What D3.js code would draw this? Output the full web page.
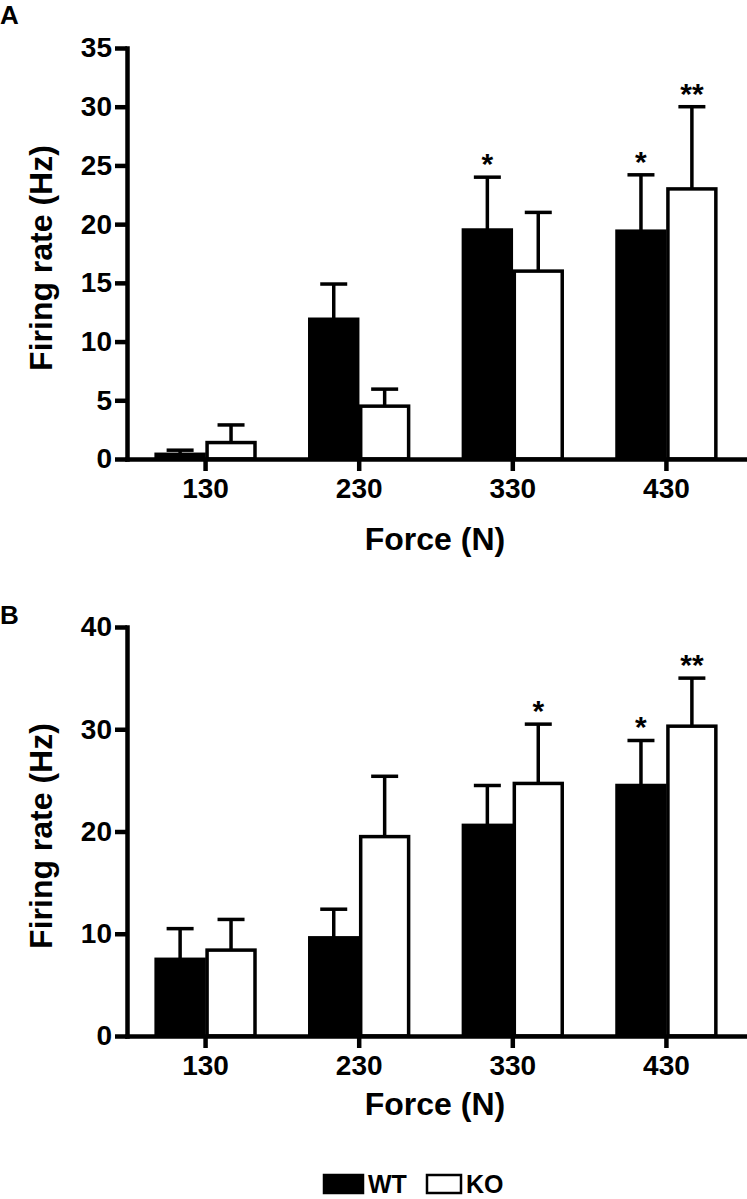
<!DOCTYPE html>
<html>
<head>
<meta charset="utf-8">
<script src="https://cdn.jsdelivr.net/npm/d3@7"></script>
<style>
  html, body { margin: 0; padding: 0; background: #fff; }
  svg { display: block; font-family: "Liberation Sans", Arial, sans-serif; font-weight: bold; }
</style>
</head>
<body>
<div id="chart"></div>
<script>
// ---- data ----
const categories = ["130", "230", "330", "430"];
const groups = ["WT", "KO"];

// Panel A
const aWT    = [0.4, 11.9, 19.5, 19.4];
const aWTerr = [0.35, 3.0, 4.5, 4.8];
const aKO    = [1.4, 4.5, 16.0, 23.0];
const aKOerr = [1.5, 1.45, 5.0, 7.0];
const aTicks = [0, 5, 10, 15, 20, 25, 30, 35];
const aStarsWT = ["", "", "*", "*"];
const aStarsKO = ["", "", "", "**"];

// Panel B
const bWT    = [7.5, 9.6, 20.6, 24.5];
const bWTerr = [3.0, 2.8, 3.9, 4.4];
const bKO    = [8.4, 19.5, 24.7, 30.3];
const bKOerr = [3.0, 5.9, 5.8, 4.7];
const bTicks = [0, 10, 20, 30, 40];
const bStarsWT = ["", "", "", "*"];
const bStarsKO = ["", "", "*", "**"];

const W = 747, H = 1199;
const svg = d3.select("#chart").append("svg").attr("width", W).attr("height", H);

function panel(opt) {
  const g = svg.append("g");
  const x = d3.scaleBand().domain(categories).range([127, 745])
    .paddingInner(0.337).paddingOuter(0.18);
  const x1 = d3.scaleBand().domain(groups).range([0, x.bandwidth()]);
  const y = d3.scaleLinear().domain(opt.domain).range([opt.y0, opt.y1]);

  const rows = [];
  categories.forEach((c, i) => {
    rows.push({c, grp: "WT", v: opt.wt[i], e: opt.wtErr[i], s: opt.starsWT[i]});
    rows.push({c, grp: "KO", v: opt.ko[i], e: opt.koErr[i], s: opt.starsKO[i]});
  });

  // error bars (upward)
  const capW = 27;
  const eb = g.append("g").attr("stroke", "#000").attr("stroke-width", 3.5);
  rows.forEach(r => {
    const cx = x(r.c) + x1(r.grp) + x1.bandwidth() / 2;
    eb.append("line").attr("x1", cx).attr("x2", cx)
      .attr("y1", y(r.v)).attr("y2", y(r.v + r.e));
    eb.append("line").attr("x1", cx - capW / 2).attr("x2", cx + capW / 2)
      .attr("y1", y(r.v + r.e)).attr("y2", y(r.v + r.e));
  });

  // bars
  g.append("g").selectAll("rect").data(rows).join("rect")
    .attr("x", d => x(d.c) + x1(d.grp) + 1.5)
    .attr("width", x1.bandwidth() - 3)
    .attr("y", d => y(d.v))
    .attr("height", d => y(0) - y(d.v))
    .attr("fill", d => d.grp === "WT" ? "#000" : "#fff")
    .attr("stroke", "#000").attr("stroke-width", 3.5);

  // significance stars
  g.append("g").selectAll("text").data(rows.filter(d => d.s)).join("text")
    .attr("x", d => x(d.c) + x1(d.grp) + x1.bandwidth() / 2)
    .attr("y", d => y(d.v + d.e) - 3)
    .attr("text-anchor", "middle")
    .attr("font-size", 30)
    .text(d => d.s);

  // y axis
  const ya = g.append("g").attr("transform", "translate(127,0)")
    .call(d3.axisLeft(y).tickValues(opt.ticks).tickSize(12).tickSizeOuter(0).tickPadding(3));
  // x axis
  const xa = g.append("g").attr("transform", `translate(0,${opt.y0})`)
    .call(d3.axisBottom(x).tickSize(12).tickSizeOuter(0).tickPadding(7));
  [ya, xa].forEach(a => {
    a.selectAll("path, line").attr("stroke", "#000").attr("stroke-width", 4.5);
    a.selectAll("path").attr("stroke-linecap", "square");
    a.selectAll("text").attr("fill", "#000").attr("font-size", 28)
      .attr("font-family", "'Liberation Sans', Arial, sans-serif").attr("font-weight", "bold");
  });

  // axis titles
  g.append("text")
    .attr("transform", `translate(52,${opt.yTitleY}) rotate(-90)`)
    .attr("text-anchor", "middle").attr("font-size", 32)
    .text("Firing rate (Hz)");
  g.append("text")
    .attr("x", 435).attr("y", opt.xTitleY)
    .attr("text-anchor", "middle").attr("font-size", 32)
    .text("Force (N)");

  // panel letter
  g.append("text").attr("x", 0).attr("y", opt.letterY)
    .attr("font-size", 26).text(opt.letter);
}

panel({
  domain: [0, 35], y0: 459, y1: 48, ticks: aTicks,
  wt: aWT, wtErr: aWTerr, ko: aKO, koErr: aKOerr,
  starsWT: aStarsWT, starsKO: aStarsKO,
  yTitleY: 258, xTitleY: 550, letter: "A", letterY: 24
});
panel({
  domain: [0, 40], y0: 1036, y1: 627, ticks: bTicks,
  wt: bWT, wtErr: bWTerr, ko: bKO, koErr: bKOerr,
  starsWT: bStarsWT, starsKO: bStarsKO,
  yTitleY: 836, xTitleY: 1115, letter: "B", letterY: 624
});

// legend
const legend = svg.append("g");
const legendItems = [
  {label: "WT", fill: "#000", x: 323},
  {label: "KO", fill: "#fff", x: 426}
];
legendItems.forEach(d => {
  const bw = d.label === "WT" ? 41 : 36;
  legend.append("rect").attr("x", d.x + 1).attr("y", 1175)
    .attr("width", bw - 2).attr("height", 18)
    .attr("fill", d.fill).attr("stroke", "#000").attr("stroke-width", 2.5);
  legend.append("text").attr("x", d.x + bw + 4).attr("y", 1193)
    .attr("font-size", 25).text(d.label);
});
</script>
</body>
</html>
